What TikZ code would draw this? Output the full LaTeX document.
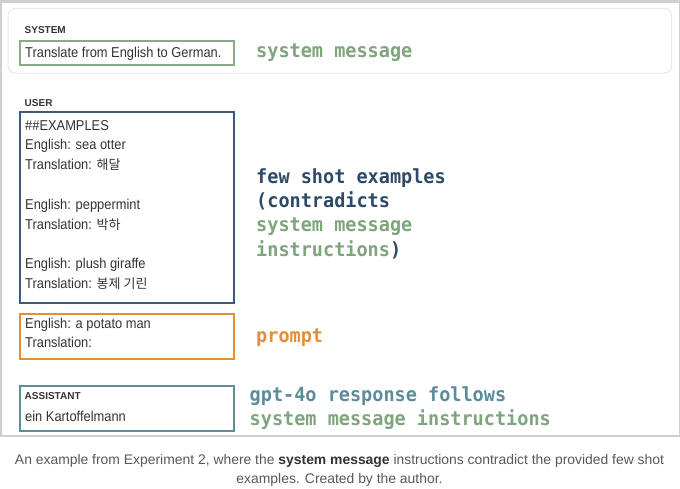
\documentclass[tikz,border=0pt]{standalone}
\usepackage{fontspec}
\setmainfont{Liberation Sans}[FakeStretch=0.9]
\newfontfamily\plainsans{Liberation Sans}
\newfontfamily\monofont{DejaVu Sans Mono}[FakeStretch=0.95]
\newfontfamily\krfont{Noto Sans CJK KR}
\definecolor{sgreen}{HTML}{7EA57C}
\definecolor{sgreenbox}{HTML}{88AA87}
\definecolor{dblue}{HTML}{2D4B66}
\definecolor{dbluebox}{HTML}{3C5A74}
\definecolor{orng}{HTML}{E48F35}
\definecolor{tealc}{HTML}{5B8C9A}
\definecolor{tealbox}{HTML}{5E8E9C}
\definecolor{txtgray}{HTML}{333333}
\definecolor{capgray}{HTML}{595959}
\definecolor{framegray}{HTML}{CFCFCF}
\definecolor{cardgray}{HTML}{E8E8E8}
\tikzset{
  msgbox/.style={draw, line width=2.3pt, anchor=north west, inner sep=0pt, fill=white},
  txt/.style={anchor=base west, inner sep=0pt, text=txtgray, font=\fontsize{14.3}{16}\selectfont},
  role/.style={anchor=base west, inner sep=0pt, text=txtgray, font=\plainsans\bfseries\fontsize{10}{12}\selectfont},
  note/.style={anchor=base west, inner sep=0pt, font=\monofont\bfseries\fontsize{19.5}{24}\selectfont},
  captxt/.style={anchor=base, inner sep=0pt, text=capgray, font=\plainsans\fontsize{13.9}{16}\selectfont}
}
\newcommand{\kr}[1]{{\krfont\fontsize{13}{16}\selectfont #1}}
\begin{document}
\begin{tikzpicture}[x=1pt,y=-1pt]
\useasboundingbox (0,0) rectangle (680,488);
\fill[white] (0,0) rectangle (680,488);
% outer frame
\draw[framegray, line width=1.5pt] (0.75,0.75) rectangle (679.25,436);
\fill[framegray] (0,0) rectangle (680,2.8);
% system card
\draw[cardgray, line width=1pt, rounded corners=7pt] (8,8.5) rectangle (671.5,73);
\node[role] (sysrole) at (24.5,33.5) {SYSTEM};
\node[msgbox, draw=sgreenbox, minimum width=214, minimum height=24] (sysbox) at (18.5,39.5) {};
\node[txt] (systxt) at (25,57) {Translate from English to German.};
\node[note, text=sgreen] (sysnote) at (256,57.5) {system message};
% user
\node[role] (userrole) at (24.5,106) {USER};
\node[msgbox, draw=dbluebox, minimum width=214, minimum height=190.5] (userbox) at (18.5,111) {};
\node[txt] (u1) at (25,130) {\#\#EXAMPLES};
\node[txt] (u2) at (25,149.6) {English: sea otter};
\node[txt] (u3) at (25,169.4) {Translation: \kr{해달}};
\node[txt] (u4) at (25,209.2) {English: peppermint};
\node[txt] (u5) at (25,229) {Translation: \kr{박하}};
\node[txt] (u6) at (25,268.8) {English: plush giraffe};
\node[txt] (u7) at (25,288.6) {Translation: \kr{봉제 기린}};
\node[note, text=dblue] (fs1) at (256,183.3) {few shot examples};
\node[note, text=dblue] (fs2) at (256,207.6) {(contradicts};
\node[note, text=sgreen] (fs3) at (256,231.9) {system message};
\node[note, text=sgreen] (fs4) at (256,256.2) {instructions\textcolor{dblue}{)}};
% prompt
\node[msgbox, draw=orng, minimum width=214, minimum height=45] (promptbox) at (18.5,312.5) {};
\node[txt] (p1) at (25,328.3) {English: a potato man};
\node[txt] (p2) at (25,347.8) {Translation:};
\node[note, text=orng] (pnote) at (256,342.7) {prompt};
% assistant
\node[msgbox, draw=tealbox, minimum width=214, minimum height=44.5] (asstbox) at (18.5,385) {};
\node[role] (asstrole) at (24.5,399) {ASSISTANT};
\node[txt] (a1) at (25,421.7) {ein Kartoffelmann};
\node[note, text=tealc] (an1) at (249.5,401.7) {gpt-4o response follows};
\node[note, text=sgreen] (an2) at (249.5,425) {system message instructions};
% caption
\node[captxt] (cap1) at (339.5,464) {An example from Experiment 2, where the \textbf{\textcolor{txtgray}{system message}} instructions contradict the provided few shot};
\node[captxt] (cap2) at (339.5,483) {examples. Created by the author.};
\end{tikzpicture}
\end{document}
